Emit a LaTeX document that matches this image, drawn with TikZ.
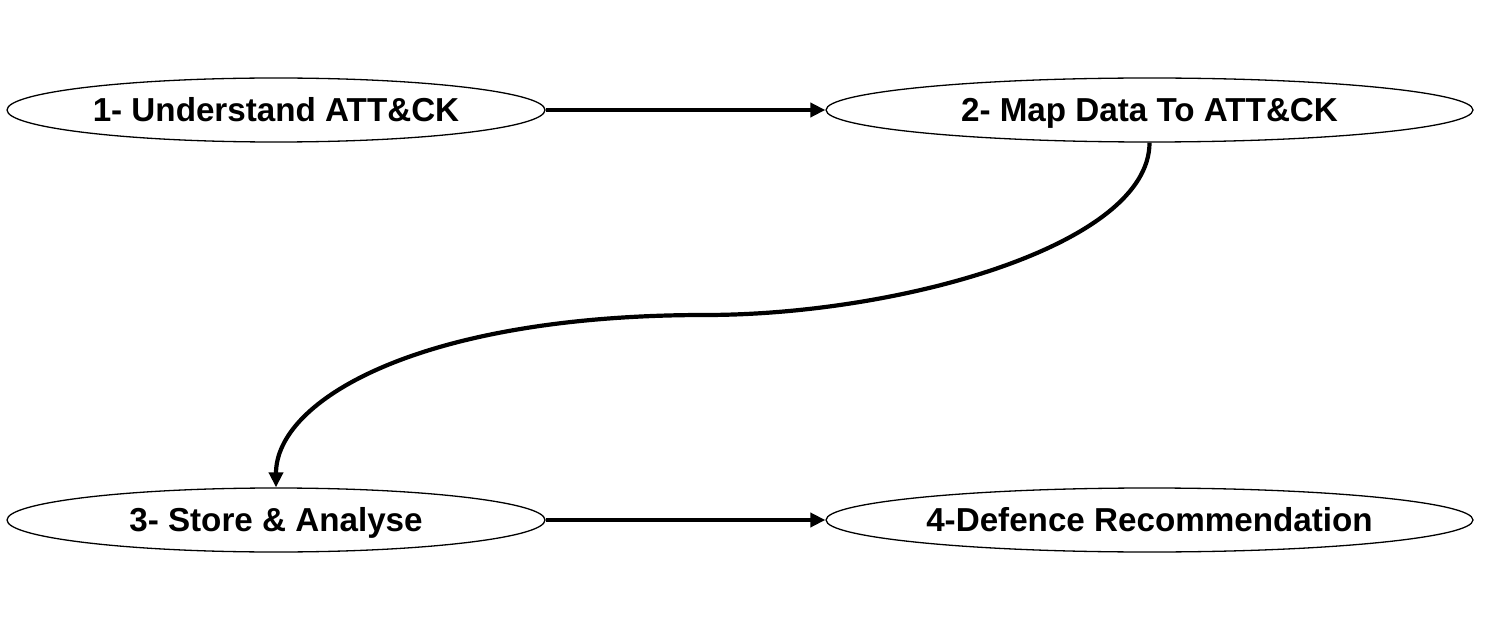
\documentclass[tikz,border=0pt]{standalone}
\usepackage{fontspec}
\setmainfont{Liberation Sans}
\usetikzlibrary{shapes.geometric,arrows.meta}
\begin{document}
\begin{tikzpicture}[x=1pt,y=-1pt,
  stage/.style={ellipse,draw=black,line width=1.3pt,inner sep=0pt,minimum height=64pt,
    text height=23.5pt,text depth=0pt,
    font=\fontsize{33.2}{40}\selectfont\bfseries},
  small/.style={stage,minimum width=538pt},
  big/.style={stage,minimum width=647pt},
  flow/.style={line width=4.2pt,-{Triangle[length=15pt,width=14pt]}}]
\useasboundingbox (0,0) rectangle (1490,636);
\node[small] (s1) at (276,110) {1- Understand ATT\&CK};
\node[big]   (s2) at (1149.5,110) {2- Map Data To ATT\&CK};
\node[small] (s3) at (276,520) {3- Store \& Analyse};
\node[big]   (s4) at (1149.5,520) {4-Defence Recommendation};
\draw[flow] (s1) -- (s2);
\draw[flow] (s3) -- (s4);
\draw[flow] (s2.south) .. controls (1149.5,245) and (900,315) .. (705,315)
  .. controls (420,315) and (276,400) .. (s3.north);
\end{tikzpicture}
\end{document}
